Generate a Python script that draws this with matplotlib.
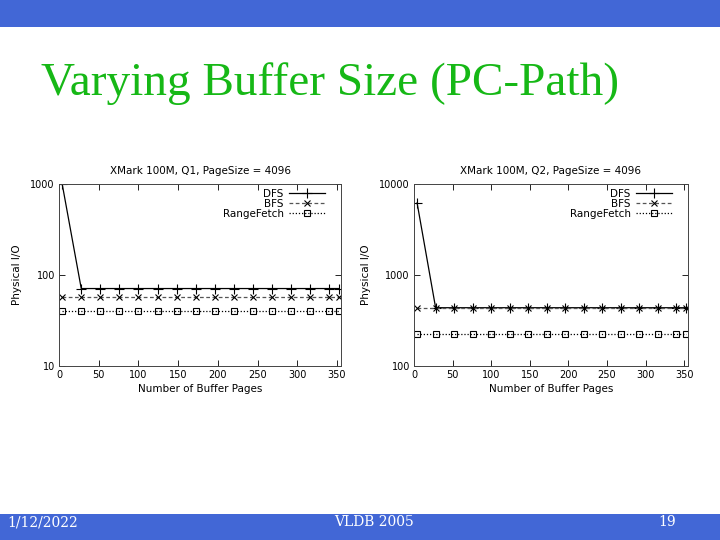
import matplotlib
matplotlib.use("Agg")
import matplotlib.pyplot as plt
from matplotlib.patches import Rectangle

# Data
buffer_pages = [4, 28, 52, 76, 100, 124, 148, 172, 196, 220, 244, 268, 292, 316, 340, 352]
q1_dfs = [1000] + [71] * 15
q1_bfs = [58] * 16
q1_range = [40] * 16
q2_dfs = [6200] + [437] * 15
q2_bfs = [437] * 16
q2_range = [225] * 16

titles = ["XMark 100M, Q1, PageSize = 4096", "XMark 100M, Q2, PageSize = 4096"]
series_names = ["DFS", "BFS", "RangeFetch"]
ylims = [(10, 1000), (100, 10000)]
yticks = [[10, 100, 1000], [100, 1000, 10000]]
xticks = [0, 50, 100, 150, 200, 250, 300, 350]

fig = plt.figure(figsize=(7.2, 5.4), dpi=100)
fig.patch.set_facecolor("white")

blue = "#4267D6"
fig.add_artist(Rectangle((0, 1 - 27 / 540), 1, 27 / 540, transform=fig.transFigure,
                         facecolor=blue, edgecolor="none"))
fig.add_artist(Rectangle((0, 0), 1, 26 / 540, transform=fig.transFigure,
                         facecolor=blue, edgecolor="none"))

fig.text(41 / 720, 1 - 95 / 540, "Varying Buffer Size (PC-Path)", color="#16B816",
         fontsize=34, family="Liberation Serif", va="baseline", ha="left")

fig.text(7 / 720, 17.5 / 540, "1/12/2022", color="white", fontsize=10,
         family="DejaVu Serif", va="center", ha="left")
fig.text(374 / 720, 17.5 / 540, "VLDB 2005", color="white", fontsize=10,
         family="DejaVu Serif", va="center", ha="center")
fig.text(667 / 720, 17.5 / 540, "19", color="white", fontsize=10,
         family="DejaVu Serif", va="center", ha="center")

positions = [[59 / 720, 1 - 366 / 540, (341 - 59) / 720, (366 - 184) / 540],
             [414 / 720, 1 - 366 / 540, (688 - 414) / 720, (366 - 184) / 540]]
data = [(q1_dfs, q1_bfs, q1_range), (q2_dfs, q2_bfs, q2_range)]

for i in range(2):
    ax = fig.add_axes(positions[i])
    dfs, bfs, rng = data[i]
    ax.plot(buffer_pages, dfs, color="black", lw=0.9, ls="-", marker="+",
            ms=7, mew=0.8, label=series_names[0])
    ax.plot(buffer_pages, bfs, color="#555555", lw=0.9, ls=(0, (3, 2)), marker="x",
            ms=5, mew=0.8, mec="black", label=series_names[1])
    ax.plot(buffer_pages, rng, color="black", lw=0.9, ls=(0, (1, 1.5)), marker="s",
            ms=5, mew=0.8, mfc="none", mec="black", label=series_names[2])
    ax.set_yscale("log")
    ax.set_ylim(*ylims[i])
    ax.set_xlim(0, 355)
    ax.set_yticks(yticks[i])
    ax.set_yticklabels([str(v) for v in yticks[i]])
    ax.minorticks_off()
    ax.set_xticks(xticks)
    ax.set_xticklabels([str(v) for v in xticks])
    ax.tick_params(direction="in", top=True, right=True, labelsize=7, length=4,
                   width=0.6, pad=3)
    for s in ax.spines.values():
        s.set_linewidth(0.7)
        s.set_color("#444444")
    ax.set_title(titles[i], fontsize=7.5, pad=7)
    ax.set_xlabel("Number of Buffer Pages", fontsize=7.5, labelpad=3)
    ax.set_ylabel("Physical I/O", fontsize=7.5, labelpad=6)
    ax.legend(loc="upper right", bbox_to_anchor=(0.97, 1.015), frameon=False,
              markerfirst=False, fontsize=7.5, handlelength=3.5, labelspacing=0.0,
              handletextpad=0.5, borderpad=0.2)

fig.savefig("out.png", dpi=100, facecolor="white")
